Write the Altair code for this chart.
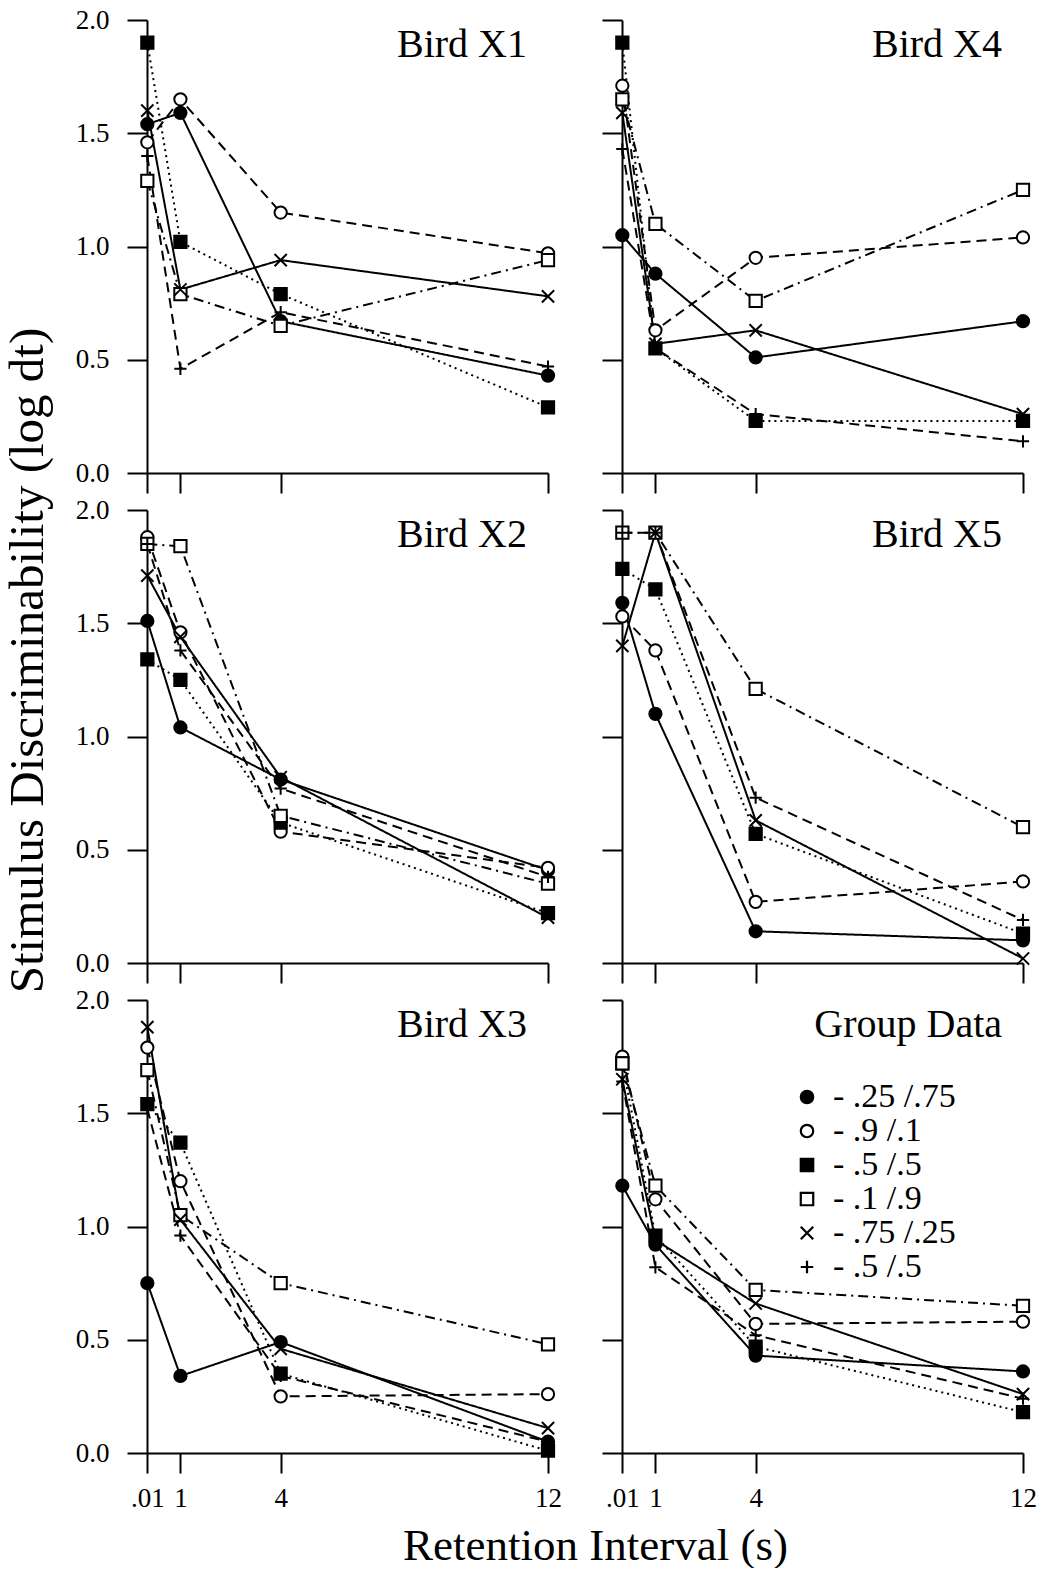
import altair as alt
import pandas as pd

FONT = "Liberation Serif"

# ---- data -------------------------------------------------------------
x_values = [0.01, 1, 4, 12]
x_tick_labels = [".01", "1", "4", "12"]
y_ticks = [0.0, 0.5, 1.0, 1.5, 2.0]

series_labels = ["- .25 /.75", "- .9 /.1", "- .5 /.5", "- .1 /.9", "- .75 /.25", "- .5 /.5"]
series_shapes = ["circle", "circle", "square", "square",
                 "M-1,-1L1,1M-1,1L1,-1", "M-1,0L1,0M0,-1L0,1"]
series_fills = ["black", "white", "black", "white", "white", "white"]
series_strokes = ["black", "black", "black", "black", "black", "black"]
series_dashes = [[1, 0], [10, 6], [2, 4], [10, 5, 2, 5], [1, 0], [10, 6]]

panel_titles = ["Bird X1", "Bird X4", "Bird X2", "Bird X5", "Bird X3", "Group Data"]

# rows: filled circle, open circle, filled square, open square, x, +
bird_x1 = [
    [1.54, 1.59, 0.67, 0.43],
    [1.46, 1.65, 1.15, 0.97],
    [1.90, 1.02, 0.79, 0.29],
    [1.29, 0.79, 0.65, 0.94],
    [1.60, 0.81, 0.94, 0.78],
    [1.40, 0.46, 0.71, 0.47],
]
bird_x4 = [
    [1.05, 0.88, 0.51, 0.67],
    [1.71, 0.63, 0.95, 1.04],
    [1.90, 0.55, 0.23, 0.23],
    [1.65, 1.10, 0.76, 1.25],
    [1.59, 0.57, 0.63, 0.26],
    [1.43, 0.55, 0.26, 0.14],
]
bird_x2 = [
    [1.51, 1.04, 0.81, 0.41],
    [1.88, 1.46, 0.58, 0.42],
    [1.34, 1.25, 0.62, 0.22],
    [1.85, 1.84, 0.65, 0.35],
    [1.71, 1.44, 0.82, 0.20],
    [1.85, 1.38, 0.77, 0.38],
]
bird_x5 = [
    [1.59, 1.10, 0.14, 0.10],
    [1.53, 1.38, 0.27, 0.36],
    [1.74, 1.65, 0.57, 0.13],
    [1.90, 1.90, 1.21, 0.60],
    [1.40, 1.90, 0.63, 0.02],
    [1.90, 1.90, 0.73, 0.19],
]
bird_x3 = [
    [0.75, 0.34, 0.49, 0.05],
    [1.79, 1.20, 0.25, 0.26],
    [1.54, 1.37, 0.35, 0.01],
    [1.69, 1.05, 0.75, 0.48],
    [1.88, 1.03, 0.46, 0.11],
    [1.52, 0.96, 0.34, 0.05],
]
group_data = [
    [1.18, 0.92, 0.43, 0.36],
    [1.75, 1.12, 0.57, 0.58],
    [1.72, 0.96, 0.47, 0.18],
    [1.72, 1.18, 0.72, 0.65],
    [1.65, 0.94, 0.66, 0.26],
    [1.64, 0.82, 0.52, 0.24],
]
panel_values = [bird_x1, bird_x4, bird_x2, bird_x5, bird_x3, group_data]

# ---- chart ------------------------------------------------------------
W, H = 401, 453
series_domain = [f"{i}{lab}" for i, lab in enumerate(series_labels)]
dash_domain = [f"dash{i}" for i in range(len(series_labels))]

x_label_expr = " : ".join(
    f"abs(datum.value - {v}) < 0.001 ? '{t}'" for v, t in zip(x_values, x_tick_labels)
) + " : ''"


def make_panel(i):
    r, c = divmod(i, 2)
    rows = []
    for s, vals in enumerate(panel_values[i]):
        for xv, yv in zip(x_values, vals):
            rows.append({"series": series_domain[s], "dash": dash_domain[s], "x": xv, "y": yv})
    df = pd.DataFrame(rows)

    x_axis_kw = dict(values=x_values, labels=(r == 2), labelExpr=x_label_expr,
                     tickSize=20, labelPadding=12, title=None)
    if r == 2 and c == 0:
        x_axis_kw.update(title="Retention Interval (s)", titleX=448, titleY=106,
                         titleBaseline="alphabetic", titleAlign="center", titleAngle=0,
                         titleFont=FONT, titleFontSize=45, titleFontWeight="normal",
                         titleColor="black")
    y_axis_kw = dict(values=y_ticks, labels=(c == 0), format=".1f",
                     tickSize=20, labelPadding=18, title=None)
    if r == 1 and c == 0:
        y_axis_kw.update(title="Stimulus Discriminability (log dt)", titleX=-104.5,
                         titleY=150, titleBaseline="alphabetic", titleAlign="center",
                         titleAngle=270, titleFont=FONT, titleFontSize=49,
                         titleFontWeight="normal", titleColor="black")

    base = alt.Chart(df).encode(
        x=alt.X("x:Q", scale=alt.Scale(domain=[0, 12], nice=False, zero=False),
                axis=alt.Axis(**x_axis_kw)),
        y=alt.Y("y:Q", scale=alt.Scale(domain=[0, 2], nice=False),
                axis=alt.Axis(**y_axis_kw)),
    )
    lines = base.mark_line(color="black", strokeWidth=2).encode(
        strokeDash=alt.StrokeDash("dash:N",
                                  scale=alt.Scale(domain=dash_domain, range=series_dashes),
                                  legend=None)
    )
    if i == 5:
        leg = alt.Legend(orient="none", legendX=168, legendY=80, title=None,
                         labelExpr="substring(datum.label, 1)", labelFont=FONT,
                         labelFontSize=34, labelColor="black", labelOffset=9,
                         labelLimit=400, symbolSize=155, symbolStrokeColor="black",
                         symbolStrokeWidth=2.2, symbolOpacity=1, rowPadding=0, padding=0)
    else:
        leg = None
    points = base.mark_point(filled=True, strokeWidth=2, size=150, opacity=1).encode(
        shape=alt.Shape("series:N", scale=alt.Scale(domain=series_domain, range=series_shapes),
                        legend=leg),
        fill=alt.Fill("series:N", scale=alt.Scale(domain=series_domain, range=series_fills),
                      legend=leg),
        stroke=alt.Stroke("series:N", scale=alt.Scale(domain=series_domain, range=series_strokes),
                          legend=leg),
    )
    label = alt.Chart(pd.DataFrame({"t": [panel_titles[i]]})).mark_text(
        align="right", baseline="alphabetic", font=FONT, fontSize=40, color="black"
    ).encode(text="t:N", x=alt.value(W - 21), y=alt.value(37))
    return alt.layer(lines, points, label).properties(width=W, height=H)


panels = [make_panel(i) for i in range(6)]

chart = alt.concat(
    *panels, columns=2, spacing={"row": 37, "column": 74}, bounds="flush"
).resolve_scale(
    shape="independent", fill="independent", stroke="independent",
    strokeDash="independent", x="independent", y="independent"
).properties(
    padding={"left": 3, "top": 6, "right": 5, "bottom": 0}, background="white"
).configure_view(stroke=None).configure_axis(
    domainColor="black", domainWidth=2, tickColor="black", tickWidth=2,
    labelFont=FONT, labelFontSize=27, labelColor="black", grid=False,
    labelFlush=False, labelOverlap=False
)

chart.save("out.html", embed_options={"renderer": "svg", "actions": False})
